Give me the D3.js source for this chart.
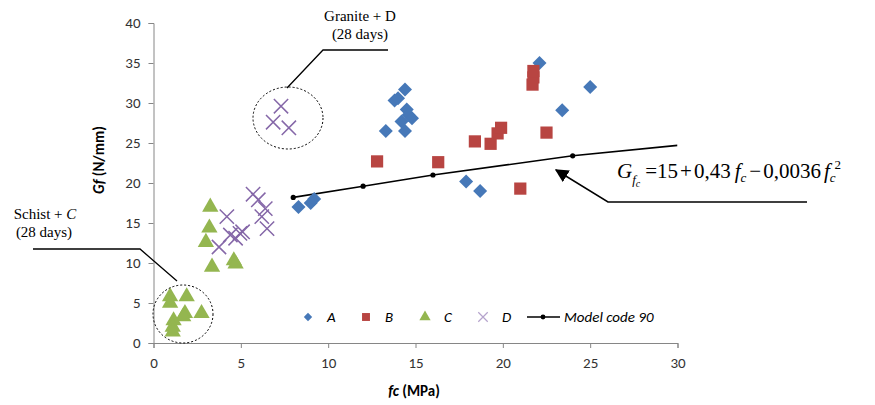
<!DOCTYPE html>
<html>
<head>
<meta charset="utf-8">
<script src="https://cdn.jsdelivr.net/npm/d3@7"></script>
<style>
  body { margin: 0; background: #fff; }
  .tick text { font-family: Carlito, Lato, "Open Sans", sans-serif; font-size: 15px; fill: #333; }
  .ann { font-family: "Liberation Serif", "Times New Roman", serif; font-size: 15px; fill: #000; }
</style>
</head>
<body>
<svg class="chart"></svg>
<script>
// series (fc in MPa, Gf in N/mm)
const aFc = [8.3, 9.0, 9.2, 13.3, 13.8, 14.0, 14.4, 14.5, 14.6, 14.8, 14.2, 14.4, 17.9, 18.7, 22.1, 23.4, 25.0];
const aGf = [17.0, 17.5, 18.0, 26.5, 30.3, 30.6, 31.7, 29.2, 28.5, 28.1, 27.7, 26.5, 20.2, 19.0, 35.0, 29.1, 32.0];

const bFc = [12.8, 16.3, 18.4, 19.3, 19.7, 19.9, 21.0, 21.7, 21.75, 21.75, 22.5];
const bGf = [22.7, 22.6, 25.2, 24.9, 26.2, 26.9, 19.3, 32.3, 33.2, 34.0, 26.3];

const cFc = [3.25, 3.2, 3.0, 3.35, 4.6, 4.7, 0.95, 0.95, 1.9, 1.8, 2.75, 1.7, 1.15, 1.1, 1.1];
const cGf = [17.0, 14.4, 12.6, 9.5, 10.3, 9.9, 5.8, 5.0, 5.8, 3.7, 3.7, 3.3, 2.8, 2.0, 1.4];

const dFc = [4.2, 5.7, 6.0, 6.4, 6.2, 6.5, 4.4, 4.95, 4.7, 3.75, 5.1, 7.3, 6.85, 7.75];
const dGf = [15.8, 18.6, 17.9, 16.8, 15.8, 14.3, 13.5, 13.7, 13.1, 12.0, 13.9, 29.6, 27.6, 26.9];

// Model code 90 curve points
const modelFc = [8, 12, 16, 24, 30];
const modelGf = [18.2, 19.6, 21.0, 23.4, 24.7];

const xTicks = [0, 5, 10, 15, 20, 25, 30];
const yTicks = [0, 5, 10, 15, 20, 25, 30, 35, 40];

const legendNames = ["A", "B", "C", "D", "Model code 90"];

const colA = "#4678B8", colB = "#B84542", colC = "#94B650", colD = "#8567A8";

const W = 875, H = 405;
const margin = {top: 23, left: 153.5};
const width = 524, height = 320;

const svg = d3.select(".chart").attr("width", W).attr("height", H);
const chart = svg.append("g").attr("transform", "translate(" + margin.left + "," + margin.top + ")");

const x = d3.scaleLinear().domain([0, 30]).range([0, width]);
const y = d3.scaleLinear().domain([0, 40]).range([height, 0]);

const xAxis = d3.axisBottom(x).tickValues(xTicks).tickSize(5).tickPadding(6);
const yAxis = d3.axisLeft(y).tickValues(yTicks).tickSize(5).tickPadding(8);

const gx = chart.append("g").attr("transform", "translate(0," + height + ")").call(xAxis);
const gy = chart.append("g").call(yAxis);
[gx, gy].forEach(g => {
  g.select(".domain").attr("stroke", "#868686");
  g.selectAll(".tick line").attr("stroke", "#868686");
});
gx.selectAll(".tick text").attr("dy", "0.95em");

// axis titles
svg.append("text")
  .attr("x", 414).attr("y", 396)
  .attr("text-anchor", "middle")
  .style("font-family", "Carlito, Lato, 'Open Sans', sans-serif")
  .style("font-size", "15px").style("font-weight", "bold")
  .html("<tspan font-style='italic'>fc</tspan> (MPa)");

svg.append("text")
  .attr("transform", "translate(104,160) rotate(-90)")
  .attr("text-anchor", "middle")
  .style("font-family", "Carlito, Lato, 'Open Sans', sans-serif")
  .style("font-size", "15px").style("font-weight", "bold")
  .html("<tspan font-style='italic'>Gf</tspan> (N/mm)");

// clip so the model line stops at the plot edge
svg.append("clipPath").attr("id", "plotclip")
  .append("rect").attr("x", 0).attr("y", -10).attr("width", width).attr("height", height + 10);

const zip = (xs, ys) => xs.map((v, i) => [v, ys[i]]);

// Model code 90 line
const model = zip(modelFc, modelGf);
const mg = chart.append("g").attr("clip-path", "url(#plotclip)");
mg.append("path")
  .datum(model)
  .attr("fill", "none").attr("stroke", "#000").attr("stroke-width", 1.6)
  .attr("d", d3.line().x(d => x(d[0])).y(d => y(d[1])));
mg.selectAll("circle").data(model.slice(0, -1)).enter().append("circle")
  .attr("cx", d => x(d[0])).attr("cy", d => y(d[1])).attr("r", 2.6).attr("fill", "#000");

// markers
const sym = {
  A: d3.symbol().type(d3.symbolDiamond2).size(125),
  B: d3.symbol().type(d3.symbolSquare2).size(190),
  C: d3.symbol().type(d3.symbolTriangle).size(115),
  D: d3.symbol().type(d3.symbolTimes).size(135)
};

chart.append("g").selectAll("path").data(zip(aFc, aGf)).enter().append("path")
  .attr("transform", d => "translate(" + x(d[0]) + "," + y(d[1]) + ")")
  .attr("d", sym.A).attr("fill", colA);

chart.append("g").selectAll("path").data(zip(bFc, bGf)).enter().append("path")
  .attr("transform", d => "translate(" + x(d[0]) + "," + y(d[1]) + ")")
  .attr("d", sym.B).attr("fill", colB);

chart.append("g").selectAll("path").data(zip(cFc, cGf)).enter().append("path")
  .attr("transform", d => "translate(" + x(d[0]) + "," + y(d[1]) + ")")
  .attr("d", sym.C).attr("fill", colC);

chart.append("g").selectAll("path").data(zip(dFc, dGf)).enter().append("path")
  .attr("transform", d => "translate(" + x(d[0]) + "," + y(d[1]) + ")")
  .attr("d", sym.D).attr("fill", "none").attr("stroke", colD).attr("stroke-width", 1.5);

// legend
const leg = svg.append("g")
  .style("font-family", "Carlito, Lato, 'Open Sans', sans-serif")
  .style("font-size", "15px").style("font-style", "italic");
const legX = [308, 366, 425, 483];
const legSym = [
  d3.symbol().type(d3.symbolDiamond2).size(45),
  d3.symbol().type(d3.symbolSquare2).size(80),
  d3.symbol().type(d3.symbolTriangle).size(55),
  d3.symbol().type(d3.symbolTimes).size(60)
];
const legFill = [colA, colB, colC, "none"];
legX.forEach((lx, i) => {
  leg.append("path").attr("transform", "translate(" + lx + ",317)")
    .attr("d", legSym[i]).attr("fill", legFill[i])
    .attr("stroke", i === 3 ? "#B5A3CC" : "none").attr("stroke-width", 1.2);
  leg.append("text").attr("x", lx + 19).attr("y", 322).text(legendNames[i]);
});
leg.append("line").attr("x1", 527).attr("x2", 560).attr("y1", 317).attr("y2", 317)
  .attr("stroke", "#000").attr("stroke-width", 1.6);
leg.append("circle").attr("cx", 543).attr("cy", 317).attr("r", 2.4);
leg.append("text").attr("x", 564).attr("y", 322).text(legendNames[4]);

// annotations
const ann = svg.append("g");
ann.append("text").attr("class", "ann").attr("x", 360).attr("y", 21).attr("text-anchor", "middle").text("Granite + D");
ann.append("text").attr("class", "ann").attr("x", 360).attr("y", 39).attr("text-anchor", "middle").text("(28 days)");
ann.append("path").attr("d", "M388,50H323L287,88").attr("fill", "none").attr("stroke", "#000").attr("stroke-width", 1.3);
ann.append("ellipse").attr("cx", 288).attr("cy", 118).attr("rx", 35).attr("ry", 31)
  .attr("fill", "none").attr("stroke", "#000").attr("stroke-width", 1).attr("stroke-dasharray", "2,2");

ann.append("text").attr("class", "ann").attr("x", 45).attr("y", 219).attr("text-anchor", "middle")
  .html("Schist + <tspan font-style='italic'>C</tspan>");
ann.append("text").attr("class", "ann").attr("x", 44).attr("y", 237).attr("text-anchor", "middle").text("(28 days)");
ann.append("path").attr("d", "M33,249H140L177,281").attr("fill", "none").attr("stroke", "#000").attr("stroke-width", 1.3);
ann.append("ellipse").attr("cx", 183).attr("cy", 314).attr("rx", 30).attr("ry", 29)
  .attr("fill", "none").attr("stroke", "#000").attr("stroke-width", 1).attr("stroke-dasharray", "2,2");

// arrow to the model curve + equation
svg.append("defs").append("marker").attr("id", "arr")
  .attr("viewBox", "0 0 10 10").attr("refX", 9).attr("refY", 5)
  .attr("markerWidth", 9).attr("markerHeight", 9).attr("orient", "auto")
  .append("path").attr("d", "M0,0L10,5L0,10z").attr("fill", "#000");
ann.append("path").attr("d", "M807,202H608L556,170").attr("fill", "none")
  .attr("stroke", "#000").attr("stroke-width", 1.5).attr("marker-end", "url(#arr)");

const eq = svg.append("text").attr("x", 617).attr("y", 178)
  .style("font-family", "'Liberation Serif', 'Times New Roman', serif").style("font-size", "21px");
eq.append("tspan").attr("font-style", "italic").text("G");
eq.append("tspan").attr("font-style", "italic").attr("font-size", 13).attr("dy", 6).text("f");
eq.append("tspan").attr("font-style", "italic").attr("font-size", 10).attr("dy", 3).text("c");
eq.append("tspan").attr("dy", -9).attr("dx", 5).text("=15");
eq.append("tspan").attr("dx", 2).text("+");
eq.append("tspan").attr("dx", 2).text("0,43");
eq.append("tspan").attr("font-style", "italic").attr("dx", 4).text("f");
eq.append("tspan").attr("font-style", "italic").attr("font-size", 13).attr("dy", 4).text("c");
eq.append("tspan").attr("dy", -4).attr("dx", 3).text("\u2212");
eq.append("tspan").attr("dx", 2).text("0,0036");
eq.append("tspan").attr("font-style", "italic").attr("dx", 3).text("f");
eq.append("tspan").attr("font-style", "italic").attr("font-size", 13).attr("dy", 4).text("c");
eq.append("tspan").attr("font-size", 13).attr("dy", -13).attr("dx", -1).text("2");
</script>
</body>
</html>
